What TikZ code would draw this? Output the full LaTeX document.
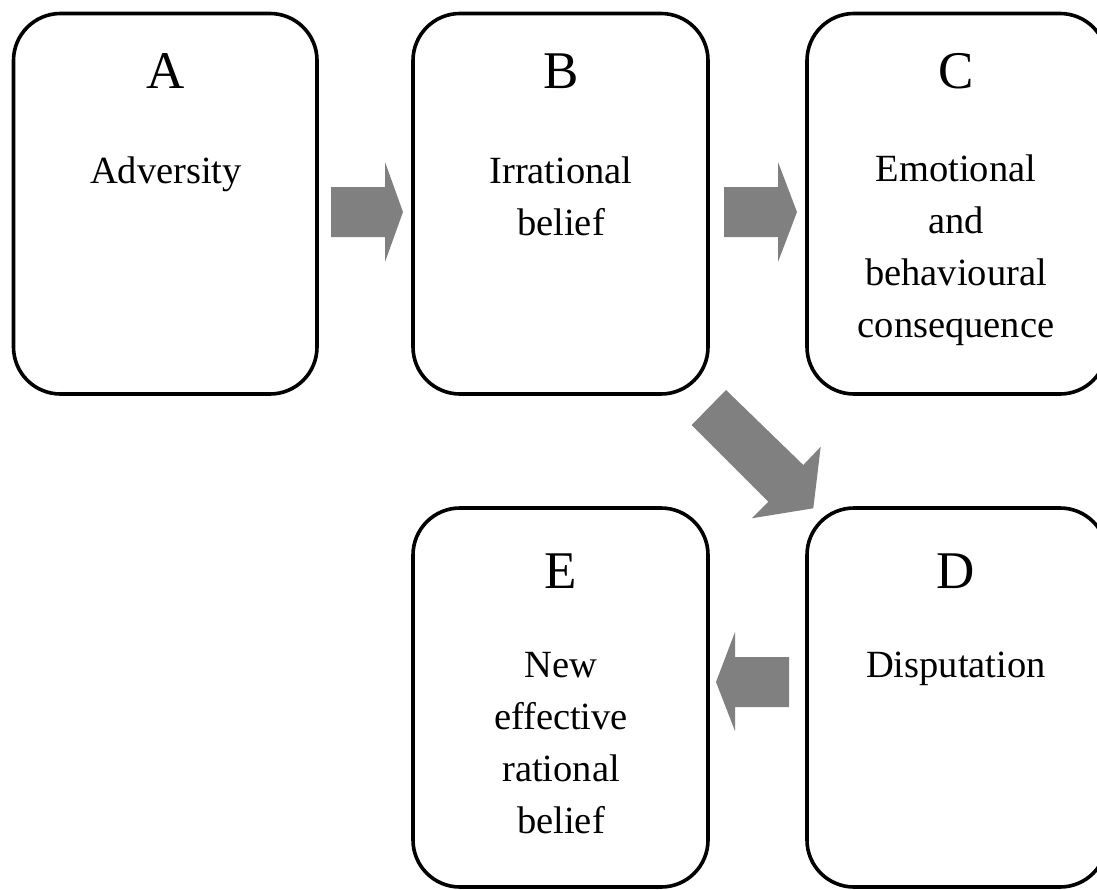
\documentclass[tikz,border=0pt]{standalone}
\usepackage{fontspec}
\setmainfont{Liberation Serif}
\definecolor{arrowgray}{RGB}{128,128,128}
\newcommand{\stacklines}[1]{{\setlength{\tabcolsep}{0pt}\begin{tabular}[t]{c}#1\end{tabular}}}
\begin{document}
\begin{tikzpicture}[x=1pt,y=-1pt,
  box/.style={draw=black, line width=3.6pt, rounded corners=47pt, inner sep=0pt, fill=none},
  letter/.style={anchor=base, inner sep=0pt, font=\fontsize{53}{60}\selectfont},
  txt/.style={anchor=base, inner sep=0pt, font=\fontsize{38.5}{52}\selectfont},
  blockarrow/.style={fill=arrowgray, draw=none}]
\useasboundingbox (0,0) rectangle (1097,889);
% boxes
\node[box, minimum width=303.5pt, minimum height=380.5pt] (A) at (165.25,203.75) {};
\node[box, minimum width=295pt, minimum height=380.5pt] (B) at (560.5,203.75) {};
\node[box, minimum width=300pt, minimum height=380.5pt] (C) at (957,203.75) {};
\node[box, minimum width=300pt, minimum height=379pt] (D) at (957,697.5) {};
\node[box, minimum width=295pt, minimum height=379pt] (E) at (560.5,697.5) {};
% texts
\node[letter] (Aletter) at (166,88) {A};
\node[txt] (Atext) at (166,183) {Adversity};
\node[letter] (Bletter) at (561,88) {B};
\node[txt] (Btext) at (561,183) {\stacklines{Irrational\\belief}};
\node[letter] (Cletter) at (956,88) {C};
\node[txt] (Ctext) at (956,181) {\stacklines{Emotional\\and\\behavioural\\consequence}};
\node[letter] (Dletter) at (956,588) {D};
\node[txt] (Dtext) at (956,677) {Disputation};
\node[letter] (Eletter) at (561,588) {E};
\node[txt] (Etext) at (561,677) {\stacklines{New\\effective\\rational\\belief}};
% block arrows
\fill[blockarrow] (331,187) -- (385,187) -- (385,162) -- (403,212) -- (385,262) -- (385,237) -- (331,237) -- cycle;
\fill[blockarrow] (724,187) -- (778,187) -- (778,162) -- (797,212) -- (778,262) -- (778,237) -- (724,237) -- cycle;
\fill[blockarrow] (789,657) -- (735,657) -- (735,632) -- (716,682) -- (735,731) -- (735,707) -- (789,707) -- cycle;
\fill[blockarrow] (726,390) -- (803.3,465) -- (820.7,446.7) -- (813.3,508.3) -- (751.7,518.3) -- (768.3,501.7) -- (691.7,425) -- cycle;
\end{tikzpicture}
\end{document}
